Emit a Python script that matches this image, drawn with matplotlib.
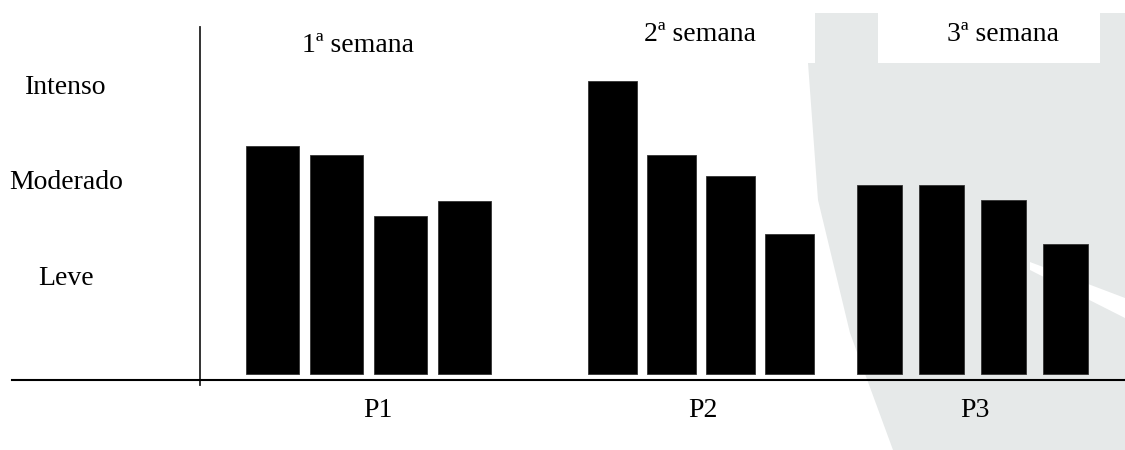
import matplotlib
matplotlib.use("Agg")
import matplotlib.pyplot as plt
from matplotlib.patches import Polygon, Rectangle

# data
periods = ["P1", "P2", "P3"]
weeks = ["1ª semana", "2ª semana", "3ª semana"]
levels = ["Leve", "Moderado", "Intenso"]
p1_values = [2.39, 2.29, 1.65, 1.81]
p2_values = [3.07, 2.29, 2.07, 1.46]
p3_values = [1.98, 1.98, 1.82, 1.36]

# layout (pixel-like x units)
group_centers = [368, 701, 972]
group_steps = [64, 59, 62]
group_widths = [53, 49, 45]

plt.rcParams['font.family'] = ['Liberation Serif', 'DejaVu Serif']

W, H = 1125, 450
fig = plt.figure(figsize=(11.25, 4.5), dpi=100)

# faint watermark in the background
def px(x, y):
    return (x / W, 1 - y / H)

wm = Polygon([px(815, 13), px(815, 63), px(808, 63), px(818, 200), px(850, 333),
              px(893, 450), px(1125, 450), px(1125, 13)],
             closed=True, transform=fig.transFigure, facecolor="#e6e9e9",
             edgecolor="none", zorder=0)
fig.patches.append(wm)
fig.patches.append(Rectangle(px(878, 63), 222 / W, 50 / H, transform=fig.transFigure,
                             facecolor="white", edgecolor="none", zorder=0))
fig.patches.append(Polygon([px(1030, 262), px(1125, 298), px(1125, 318), px(1030, 270)],
                           closed=True, transform=fig.transFigure,
                           facecolor="white", edgecolor="none", zorder=0))

ax = fig.add_axes([12 / W, 70 / H, 1 - 12 / W, (380 - 27) / H])
ax.set_zorder(2)
ax.patch.set_alpha(0)

all_values = [p1_values, p2_values, p3_values]
for center, step, width, vals in zip(group_centers, group_steps, group_widths, all_values):
    n = len(vals)
    xs = [center + (i - (n - 1) / 2) * step for i in range(n)]
    ax.bar(xs, vals, width=width, color="black", edgecolor="#333333", linewidth=0.6)

ax.set_xlim(12, 1125)
ax.set_ylim(-0.063, 3.63)

for s in ["left", "right", "top"]:
    ax.spines[s].set_visible(False)
ax.spines["bottom"].set_linewidth(1.5)
ax.set_xticks([])
ax.set_yticks([])

# y axis line
ax.plot([200, 200], [-0.115, 3.63], color="#222222", lw=1.3, clip_on=False)

for i, lab in enumerate(levels):
    ax.text(66, i + 1, lab, ha="center", va="center", fontsize=20)

week_y = [3.44, 3.55, 3.55]
week_x = [358, 700, 1003]
for x, y, w in zip(week_x, week_y, weeks):
    ax.text(x, y, w, ha="center", va="center", fontsize=20)

for c, p in zip([378, 703, 975], periods):
    ax.text(c, -0.38, p, ha="center", va="center", fontsize=20, clip_on=False)

fig.savefig("out.png", dpi=100)
